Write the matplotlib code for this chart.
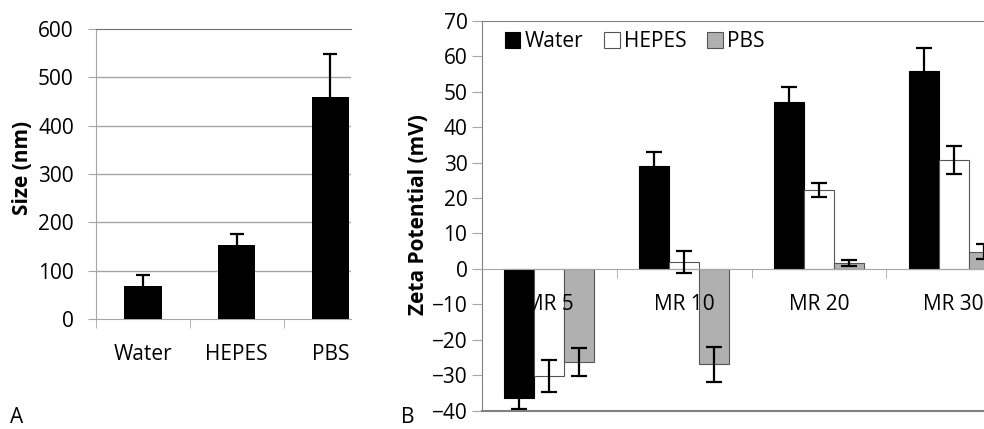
import numpy as np
import matplotlib.pyplot as plt

plt.rcParams['font.family'] = ['Open Sans', 'DejaVu Sans']

# panel A: particle size
solvents = ['Water', 'HEPES', 'PBS']
size_nm = [69, 154, 460]
size_err = [22, 22, 88]

# panel B: zeta potential
ratios = ['MR 5', 'MR 10', 'MR 20', 'MR 30']
zeta_water = [-36.5, 29.1, 47.1, 55.9]
zeta_water_err = [3.1, 4.0, 4.2, 6.3]
zeta_hepes = [-30.2, 1.9, 22.3, 30.7]
zeta_hepes_err = [4.5, 3.2, 2.0, 4.0]
zeta_pbs = [-26.3, -26.9, 1.7, 4.9]
zeta_pbs_err = [4.0, 5.0, 0.8, 2.0]

fs = 15
grid_c = '#a6a6a6'
edge_c = '#808080'

fig = plt.figure(figsize=(9.84, 4.29), dpi=100)

# ---- A ----
axA = fig.add_axes([96/984, 1 - 319/429, 255/984, 290/429])
x = np.arange(len(solvents))
axA.bar(x, size_nm, width=0.4, color='black', zorder=3)
axA.errorbar(x, size_nm, yerr=size_err, fmt='none', ecolor='black',
             elinewidth=1.6, capsize=5, capthick=1.6, zorder=4)
axA.set_ylim(0, 600)
axA.set_xlim(-0.5, 2.22)
axA.set_yticks(range(0, 601, 100))
for v in range(100, 600, 100):
    axA.axhline(v, color=grid_c, lw=1, zorder=1)
axA.spines['right'].set_visible(False)
axA.spines['top'].set_color('#707070')
axA.spines['left'].set_color(grid_c)
axA.spines['bottom'].set_color(grid_c)
axA.set_xticks(x)
axA.set_xticklabels(solvents)
axA.set_xticks(np.arange(-0.5, 2.3, 1), minor=True)
axA.tick_params(axis='x', which='major', length=0, pad=18, labelsize=fs)
axA.tick_params(axis='x', which='minor', length=6.5, color=grid_c)
axA.tick_params(axis='y', length=6, color=grid_c, pad=10, labelsize=fs)
axA.set_ylabel('Size (nm)', fontsize=fs, fontweight='bold')
axA.yaxis.label.set_va('center')
axA.yaxis.set_label_coords(-0.29, 0.52)

# ---- B ----
axB = fig.add_axes([482/984, 1 - 410.7/429, 539/984, 390/429])
xb = np.arange(len(ratios))
w = 0.223
# bars under the axis so the category labels stay on top, as in Excel
axB.bar(xb - w, zeta_water, width=w, color='black', edgecolor='black',
        lw=0.8, zorder=1, label='Water')
axB.bar(xb, zeta_hepes, width=w, color='white', edgecolor='#555555',
        lw=0.8, zorder=1, label='HEPES')
axB.bar(xb + w, zeta_pbs, width=w, color='#b0b0b0', edgecolor='#555555',
        lw=0.8, zorder=1, label='PBS')
for off, vals, errs in [(-w, zeta_water, zeta_water_err),
                        (0, zeta_hepes, zeta_hepes_err),
                        (w, zeta_pbs, zeta_pbs_err)]:
    axB.errorbar(xb + off, vals, yerr=errs, fmt='none', ecolor='black',
                 elinewidth=1.6, capsize=6, capthick=1.6, zorder=4)
axB.set_ylim(-40, 70)
axB.set_xlim(-0.5, 3.5)
axB.set_yticks(range(-40, 71, 10))
for s in axB.spines.values():
    s.set_color(edge_c)
axB.spines['bottom'].set_position(('data', 0))
axB.spines['bottom'].set_color(grid_c)
axB.axhline(-40, color=edge_c, lw=1.5, clip_on=False, zorder=5)
axB.set_xticks(xb)
axB.set_xticklabels(ratios)
axB.set_xticks(np.arange(-0.5, 3.6, 1), minor=True)
axB.tick_params(axis='x', which='major', length=0, pad=18, labelsize=fs)
axB.tick_params(axis='x', which='minor', length=6.5, color=grid_c)
axB.tick_params(axis='y', length=7, color=grid_c, pad=3.5, labelsize=fs)
axB.set_ylabel('Zeta Potential (mV)', fontsize=fs, fontweight='bold')
axB.yaxis.label.set_va('center')
axB.yaxis.set_label_coords(-0.117, 0.502)
axB.legend(loc='upper left', bbox_to_anchor=(0.015, 1.01), ncol=3,
           frameon=False, fontsize=fs, handlelength=0.75, handleheight=0.75,
           handletextpad=0.2, columnspacing=1.0, borderaxespad=0.3)

fig.text(10/984, 1 - 423/429, 'A', fontsize=fs, va='baseline')
fig.text(401/984, 1 - 423/429, 'B', fontsize=fs, va='baseline')

fig.savefig('out.png', dpi=100)
